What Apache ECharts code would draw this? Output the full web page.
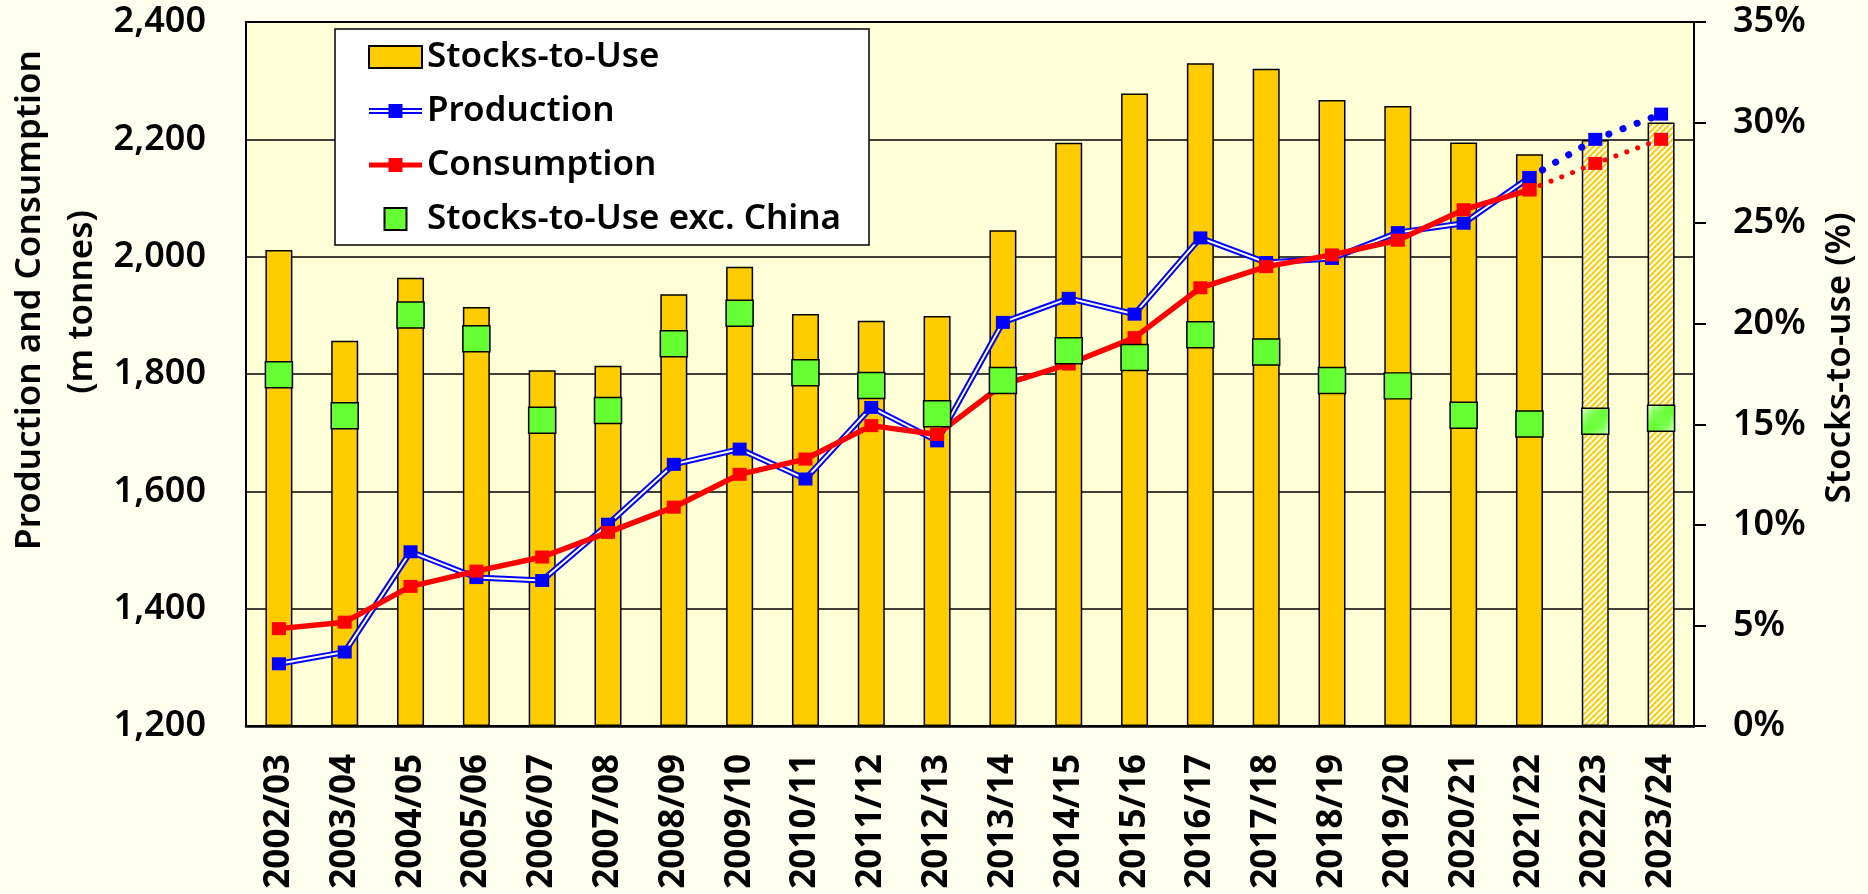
<!DOCTYPE html>
<html>
<head>
<meta charset="utf-8">
<title>Production, Consumption and Stocks-to-Use</title>
<script src="https://cdn.jsdelivr.net/npm/echarts@6/dist/echarts.min.js"></script>
<style>
  html, body { margin: 0; padding: 0; background: #FFFFF0; }
  #chart { width: 1868px; height: 894px; }
</style>
</head>
<body>
<div id="chart"></div>
<script>
// Marketing years on the category axis
const categories = ['2002/03', '2003/04', '2004/05', '2005/06', '2006/07', '2007/08', '2008/09',
  '2009/10', '2010/11', '2011/12', '2012/13', '2013/14', '2014/15', '2015/16', '2016/17',
  '2017/18', '2018/19', '2019/20', '2020/21', '2021/22', '2022/23', '2023/24'];

// Years shown as projections (hatched bars, dotted lines)
const forecastYears = ['2022/23', '2023/24'];

// Stocks-to-use ratio, % (right axis)
const stocksToUse = [23.67, 19.15, 22.29, 20.83, 17.69, 17.91, 21.46, 22.83, 20.48, 20.15, 20.38,
  24.65, 29.0, 31.45, 32.95, 32.68, 31.12, 30.83, 29.01, 28.42, 29.13, 30.0];

// Stocks-to-use ratio excluding China, % (right axis)
const stocksToUseExChina = [17.46, 15.42, 20.43, 19.25, 15.20, 15.69, 19.00, 20.52, 17.56, 16.93, 15.52,
  17.18, 18.66, 18.32, 19.45, 18.59, 17.18, 16.91, 15.45, 15.01, 15.15, 15.30];

// Production and consumption, million tonnes (left axis)
const production = [1306, 1326, 1497, 1453, 1448, 1544, 1646, 1672, 1621, 1743, 1686,
  1888, 1929, 1902, 2032, 1990, 1997, 2041, 2057, 2135, 2200, 2243];
const consumption = [1366, 1377, 1438, 1464, 1488, 1530, 1573, 1629, 1655, 1712, 1697,
  1782, 1817, 1862, 1947, 1983, 2003, 2028, 2080, 2114, 2159, 2200];

// Axis ranges
const leftAxis = { min: 1200, max: 2400, interval: 200 };
const rightAxis = { min: 0, max: 35, interval: 5 };

const FONT = 'Noto Sans';
const PLOT_BG = '#FFFFD8';
const YELLOW = '#FFCC00';
const GREEN = '#66FF33';

// Diagonal hatch used for projected years
function hatch(fg, bg) {
  const s = 6;
  const c = document.createElement('canvas');
  c.width = s; c.height = s;
  const g = c.getContext('2d');
  g.fillStyle = bg;
  g.fillRect(0, 0, s, s);
  g.strokeStyle = fg;
  g.lineWidth = 2;
  g.beginPath();
  g.moveTo(-1, 1); g.lineTo(1, -1);
  g.moveTo(0, s); g.lineTo(s, 0);
  g.moveTo(s - 1, s + 1); g.lineTo(s + 1, s - 1);
  g.stroke();
  return { image: c, repeat: 'repeat' };
}
const yellowHatch = hatch(YELLOW, '#FFFFFF');
const greenHatch = hatch(GREEN, '#FFFFFF');

const isForecast = categories.map(c => forecastYears.includes(c));
const lastActual = isForecast.indexOf(true) - 1;
const solidPart = arr => arr.map((v, i) => (isForecast[i] ? null : v));
const dottedPart = arr => arr.map((v, i) => (i >= lastActual ? v : null));

const barData = stocksToUse.map((v, i) =>
  isForecast[i] ? { value: v, itemStyle: { color: yellowHatch } } : v);
const exChinaData = stocksToUseExChina.map((v, i) =>
  isForecast[i] ? { value: v, itemStyle: { color: greenHatch } } : v);

const chart = echarts.init(document.getElementById('chart'), null, { renderer: 'canvas' });

const markerSize = [14, 13];

chart.setOption({
  backgroundColor: '#FFFFF0',
  animation: false,
  textStyle: { fontFamily: FONT },
  grid: {
    left: 246, right: 174, top: 22, bottom: 168,
    show: true, backgroundColor: PLOT_BG, borderColor: '#000', borderWidth: 2
  },
  legend: {
    orient: 'vertical',
    left: 335, top: 29,
    backgroundColor: '#FFFFFF',
    borderColor: '#000', borderWidth: 1.5, borderRadius: 0,
    padding: [8, 28, 6, 33],
    itemGap: 14, itemWidth: 53, itemHeight: 22,
    selectedMode: false,
    textStyle: { fontFamily: FONT, fontSize: 35, fontWeight: 600, color: '#000', lineHeight: 40 },
    data: [
      { name: 'Stocks-to-Use', icon: 'rect' },
      { name: 'Production', icon: 'path://M0,0H0.01V0.01H0Z M53,21.99H53.01V22H53Z M0,8H53V10H0Z M0,12H53V14H0Z M19.5,4H33.5V18H19.5Z' },
      { name: 'Consumption', icon: 'path://M0,0H0.01V0.01H0Z M53,21.99H53.01V22H53Z M0,8.5H53V13.5H0Z M19.5,4H33.5V18H19.5Z' },
      { name: 'Stocks-to-Use exc. China', icon: 'path://M15.5,0H37.5V22H15.5Z' }
    ]
  },
  xAxis: {
    type: 'category',
    data: categories,
    boundaryGap: true,
    axisLine: { show: true, lineStyle: { color: '#000', width: 2.5 } },
    axisTick: { show: false },
    axisLabel: {
      interval: 0, rotate: 90, margin: 28,
      fontFamily: FONT, fontSize: 35, fontWeight: 'bold', color: '#000'
    },
    splitLine: { show: false }
  },
  yAxis: [
    {
      type: 'value',
      min: leftAxis.min, max: leftAxis.max, interval: leftAxis.interval,
      axisLine: { show: true, lineStyle: { color: '#000', width: 2 } },
      axisTick: { show: false },
      axisLabel: {
        margin: 40, fontFamily: FONT, fontSize: 36, fontWeight: 600, color: '#000',
        formatter: v => v.toLocaleString('en-US')
      },
      splitLine: { show: true, lineStyle: { color: '#000', width: 1.5 } }
    },
    {
      type: 'value',
      position: 'right',
      min: rightAxis.min, max: rightAxis.max, interval: rightAxis.interval,
      axisLine: { show: true, lineStyle: { color: '#000', width: 2 } },
      axisTick: { show: true, inside: false, length: 12, lineStyle: { color: '#000', width: 2 } },
      axisLabel: {
        margin: 39, fontFamily: FONT, fontSize: 36, fontWeight: 600, color: '#000',
        formatter: '{value}%'
      },
      splitLine: { show: false }
    }
  ],
  graphic: [
    {
      type: 'text', x: 30, y: 300, rotation: Math.PI / 2,
      style: {
        text: 'Production and Consumption', fill: '#000',
        font: '600 35px "Noto Sans"', textAlign: 'center', textVerticalAlign: 'middle'
      }
    },
    {
      type: 'text', x: 82, y: 302, rotation: Math.PI / 2,
      style: {
        text: '(m tonnes)', fill: '#000',
        font: '600 35px "Noto Sans"', textAlign: 'center', textVerticalAlign: 'middle'
      }
    },
    {
      type: 'text', x: 1840, y: 358, rotation: Math.PI / 2,
      style: {
        text: 'Stocks-to-use (%)', fill: '#000',
        font: '600 35px "Noto Sans"', textAlign: 'center', textVerticalAlign: 'middle'
      }
    }
  ],
  series: [
    {
      name: 'Stocks-to-Use',
      type: 'bar',
      yAxisIndex: 1,
      data: barData,
      barWidth: 27,
      itemStyle: { color: YELLOW, borderColor: '#000', borderWidth: 1.5 },
      z: 2
    },
    // Production: blue double line (outer stroke + inner stroke in plot colour)
    {
      name: 'prodOuter',
      type: 'line',
      data: solidPart(production),
      showSymbol: false,
      lineStyle: { color: '#0000FF', width: 6 },
      itemStyle: { color: '#0000FF' },
      z: 3
    },
    {
      name: 'prodInner',
      type: 'line',
      data: solidPart(production),
      showSymbol: false,
      lineStyle: { color: PLOT_BG, width: 2 },
      itemStyle: { color: PLOT_BG },
      z: 3
    },
    {
      name: 'prodProjection',
      type: 'line',
      data: dottedPart(production),
      symbol: 'rect',
      symbolSize: markerSize,
      lineStyle: { color: '#0000FF', width: 7, type: [0.1, 15], cap: 'round' },
      itemStyle: { color: '#0000FF' },
      z: 3
    },
    {
      name: 'Production',
      type: 'line',
      data: solidPart(production),
      symbol: 'rect',
      symbolSize: markerSize,
      lineStyle: { width: 0, opacity: 0 },
      itemStyle: { color: '#0000FF' },
      z: 3
    },
    {
      name: 'Consumption',
      type: 'line',
      data: solidPart(consumption),
      symbol: 'rect',
      symbolSize: markerSize,
      lineStyle: { color: '#FF0000', width: 5.5 },
      itemStyle: { color: '#FF0000' },
      z: 4
    },
    {
      name: 'consProjection',
      type: 'line',
      data: dottedPart(consumption),
      symbol: 'rect',
      symbolSize: markerSize,
      lineStyle: { color: '#FF0000', width: 5, type: [0.1, 11.5], cap: 'round' },
      itemStyle: { color: '#FF0000' },
      z: 4
    },
    {
      name: 'Stocks-to-Use exc. China',
      type: 'scatter',
      yAxisIndex: 1,
      data: exChinaData,
      symbol: 'rect',
      symbolSize: [27, 26],
      itemStyle: { color: GREEN, borderColor: '#000', borderWidth: 1.5, opacity: 1 },
      z: 5
    }
  ]
});
</script>
</body>
</html>
